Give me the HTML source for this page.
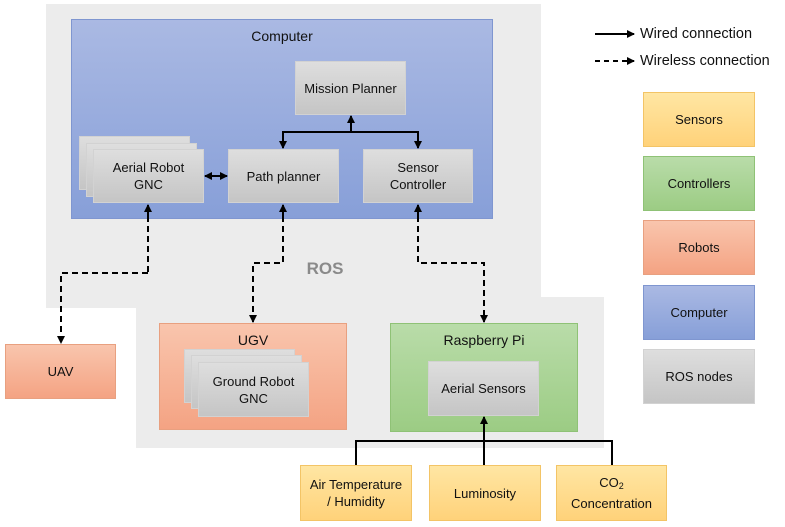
<!DOCTYPE html><html><head><meta charset="utf-8"><style>
body{margin:0;width:785px;height:527px;background:#fff;position:relative;overflow:hidden;font-family:"Liberation Sans",sans-serif;color:#111}
.b{position:absolute;box-sizing:border-box;display:flex;align-items:center;justify-content:center;text-align:center;font-size:13px;line-height:17px}
.g{background:linear-gradient(#dedede,#c5c5c5);border:1px solid #d2d2d2}
.s{background:linear-gradient(#ffe6a3,#ffd27a);border:1px solid #f3c466}
.c{background:linear-gradient(#b9dca9,#9ccc84);border:1px solid #8fc276}
.r{background:linear-gradient(#f9c5ad,#f4a383);border:1px solid #e8a080}
.p{background:linear-gradient(#aab9e3,#879fd8);border:1px solid #7f96d0}
.t{align-items:flex-start;padding-top:8px;font-size:14px}
</style></head><body>
<div style="position:absolute;left:46px;top:4px;width:495px;height:304px;background:#ececec"></div>
<div style="position:absolute;left:136px;top:297px;width:468px;height:151px;background:#ececec"></div>
<div class="b p t" style="left:71px;top:19px;width:422px;height:200px">Computer</div>
<div class="b g" style="left:295px;top:61px;width:111px;height:54px">Mission Planner</div>
<div class="b g" style="left:228px;top:149px;width:111px;height:54px">Path planner</div>
<div class="b g" style="left:363px;top:149px;width:110px;height:54px"><div>Sensor<br>Controller</div></div>
<div class="b g" style="left:79px;top:136px;width:111px;height:54px"></div>
<div class="b g" style="left:86px;top:143px;width:111px;height:54px"></div>
<div class="b g" style="left:93px;top:149px;width:111px;height:54px"><div>Aerial Robot<br>GNC</div></div>
<div class="b" style="left:290px;top:256px;width:70px;height:24px;font-size:17px;font-weight:bold;color:#8a8a8a">ROS</div>
<div class="b r" style="left:5px;top:344px;width:111px;height:55px">UAV</div>
<div class="b r t" style="left:159px;top:323px;width:188px;height:107px">UGV</div>
<div class="b g" style="left:184px;top:349px;width:111px;height:54px"></div>
<div class="b g" style="left:191px;top:355px;width:111px;height:54px"></div>
<div class="b g" style="left:198px;top:362px;width:111px;height:55px"><div>Ground Robot<br>GNC</div></div>
<div class="b c t" style="left:390px;top:323px;width:188px;height:109px">Raspberry Pi</div>
<div class="b g" style="left:428px;top:361px;width:111px;height:55px">Aerial Sensors</div>
<div class="b s" style="left:300px;top:465px;width:112px;height:56px"><div>Air Temperature<br>/ Humidity</div></div>
<div class="b s" style="left:429px;top:465px;width:112px;height:56px">Luminosity</div>
<div class="b s" style="left:556px;top:465px;width:111px;height:56px"><div>CO<span style="font-size:9px;vertical-align:-2px">2</span><br>Concentration</div></div>
<div class="b s" style="left:643px;top:92px;width:112px;height:55px">Sensors</div>
<div class="b c" style="left:643px;top:156px;width:112px;height:55px">Controllers</div>
<div class="b r" style="left:643px;top:220px;width:112px;height:55px">Robots</div>
<div class="b p" style="left:643px;top:285px;width:112px;height:55px">Computer</div>
<div class="b g" style="left:643px;top:349px;width:112px;height:55px">ROS nodes</div>
<div class="b" style="left:640px;top:25px;width:140px;height:18px;justify-content:flex-start;font-size:14.5px">Wired connection</div>
<div class="b" style="left:640px;top:52px;width:145px;height:18px;justify-content:flex-start;font-size:14.5px">Wireless connection</div>
<svg width="785" height="527" style="position:absolute;left:0;top:0">
<defs><marker id="a" markerWidth="8" markerHeight="8" refX="7" refY="4" orient="auto" markerUnits="userSpaceOnUse"><path d="M0,0L8,4L0,8z" fill="#000"/></marker></defs>
<g stroke="#000" stroke-width="2" fill="none">
<path d="M595,34H634" marker-end="url(#a)"/>
<path d="M595,61H634" stroke-dasharray="5,4" marker-end="url(#a)"/>
<path d="M351,132V116" marker-end="url(#a)"/>
<path d="M283,148V132H418V148" />
<path d="M283,139V148" marker-end="url(#a)"/><path d="M418,139V148" marker-end="url(#a)"/>
<path d="M214,176H205" marker-end="url(#a)"/><path d="M214,176H227" marker-end="url(#a)"/>
<path d="M148,273H61V343" stroke-dasharray="6,4" marker-end="url(#a)"/>
<path d="M148,216V205" marker-end="url(#a)"/><path d="M148,216V273" stroke-dasharray="6,4"/>
<path d="M283,216V205" marker-end="url(#a)"/><path d="M283,216V263H253V322" stroke-dasharray="6,4" marker-end="url(#a)"/>
<path d="M418,216V205" marker-end="url(#a)"/><path d="M418,216V263H484V322" stroke-dasharray="6,4" marker-end="url(#a)"/>
<path d="M356,465V441H612V465M484,465V417" />
<path d="M484,425V417" marker-end="url(#a)"/>
</g></svg>
</body></html>
